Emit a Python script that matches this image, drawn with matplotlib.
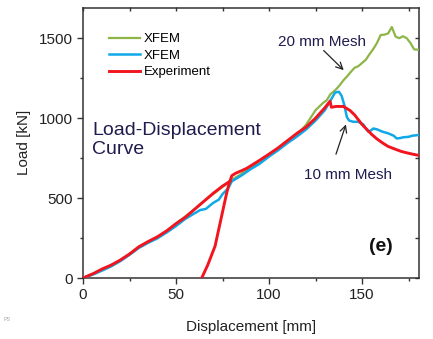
import numpy as np
import matplotlib
matplotlib.use("Agg")
import matplotlib.pyplot as plt
from matplotlib.ticker import MultipleLocator

plt.rcParams['font.family'] = ['Liberation Sans', 'DejaVu Sans']

# ---- data ----
green_x = [0, 5, 10, 15, 20, 25, 30, 35, 40, 45, 50, 55, 60, 65, 70, 75, 80, 85, 90, 95,
           100, 105, 110, 115, 120, 125, 129, 131, 133, 134.6, 136, 138, 140, 142, 144, 146,
           148, 150, 152, 154, 156, 158, 160, 162, 164, 166, 168, 170, 172, 174, 176, 178, 180]
green_y = [0, 25, 50, 78, 110, 150, 195, 225, 255, 295, 340, 385, 430, 480, 525, 570, 615,
           650, 690, 730, 770, 810, 850, 895, 960, 1050, 1095, 1112, 1150, 1165, 1180, 1206,
           1237, 1262, 1290, 1315, 1325, 1345, 1365, 1400, 1432, 1470, 1520, 1522, 1530, 1570,
           1510, 1500, 1512, 1500, 1470, 1430, 1428]

blue_x = [0, 5, 10, 15, 20, 25, 30, 35, 40, 45, 50, 55, 60, 63, 66, 70, 73, 75, 78, 80, 85,
          90, 95, 100, 105, 110, 115, 120, 125, 130, 133, 135.5, 137.5, 139, 140.5, 141.8, 143,
          145.3, 148, 150.7, 152, 153.4, 155, 156, 158, 161, 164, 167, 168.6, 170.4, 172, 175,
          177, 180]
blue_y = [0, 20, 45, 72, 105, 145, 188, 220, 248, 285, 325, 370, 405, 425, 432, 470, 490, 525,
          560, 605, 640, 680, 715, 760, 800, 845, 885, 930, 985, 1050, 1110, 1160, 1165, 1140,
          1080, 1008, 985, 977, 977, 960, 935, 915, 925, 935, 930, 915, 905, 890, 873, 875, 880,
          883, 890, 894]

exp_load_x = [0, 3, 6, 10, 15, 20, 25, 30, 35, 40, 45, 50, 55, 60, 65, 70, 75, 79]
exp_load_y = [0, 15, 30, 55, 80, 112, 150, 195, 228, 258, 295, 340, 380, 430, 480, 530, 575, 605]

exp_reload_x = [63.8, 65, 67, 69, 71, 72.5, 74, 75.5, 77, 78.5, 80, 82, 85, 88, 92, 95, 100,
                105, 110, 115, 120, 125, 130, 132.8, 133.5, 136, 140, 143.5, 146, 148, 150,
                152.5, 155, 158, 161, 164, 168, 171, 174, 177, 180]
exp_reload_y = [0, 30, 80, 140, 200, 280, 360, 440, 520, 590, 640, 655, 670, 686, 715, 737, 775,
                815, 860, 905, 945, 1000, 1065, 1106, 1068, 1073, 1073, 1048, 1020, 990, 960,
                930, 900, 870, 845, 823, 805, 792, 783, 775, 768]

labels = ["XFEM", "XFEM", "Experiment"]
c_green = "#8db548"
c_blue = "#10a8e8"
c_red = "#f2141e"
txt_col = "#1f1b4d"

fig = plt.figure(figsize=(4.33, 3.39), dpi=100)
ax = fig.add_axes([83/433, 1-278/339, (419-83)/433, (278-7.5)/339])

ax.plot(green_x, green_y, color=c_green, lw=1.6, label=labels[0], zorder=3)
ax.plot(blue_x, blue_y, color=c_blue, lw=1.8, label=labels[1], zorder=4)
ax.plot(exp_load_x, exp_load_y, color=c_red, lw=2.1, label=labels[2], zorder=5)
ax.plot(exp_reload_x, exp_reload_y, color=c_red, lw=2.1, zorder=5)

ax.set_xlim(0, 180.6)
ax.set_ylim(0, 1692)
ax.xaxis.set_major_locator(MultipleLocator(50))
ax.xaxis.set_minor_locator(MultipleLocator(25))
ax.yaxis.set_major_locator(MultipleLocator(500))
ax.yaxis.set_minor_locator(MultipleLocator(250))

for s in ax.spines.values():
    s.set_color("#333333")
    s.set_linewidth(1.1)

ax.tick_params(which='major', direction='out', length=4.3, width=1.0, color='#333333',
               labelsize=11, pad=3, labelcolor='#222222')
ax.tick_params(which='minor', direction='out', length=2.3, width=1.0, color='#333333')

secx = ax.secondary_xaxis('top')
secx.xaxis.set_major_locator(MultipleLocator(50))
secx.xaxis.set_minor_locator(MultipleLocator(25))
secx.tick_params(which='both', direction='in', length=3, width=1.0, color='#333333', labeltop=False)
secx.spines['top'].set_visible(False)
secy = ax.secondary_yaxis('right')
secy.yaxis.set_major_locator(MultipleLocator(500))
secy.yaxis.set_minor_locator(MultipleLocator(250))
secy.tick_params(which='both', direction='in', length=3, width=1.0, color='#333333', labelright=False)
secy.spines['right'].set_visible(False)

ax.set_xlabel("Displacement [mm]", fontsize=11, color='#222222', labelpad=13)
ax.set_ylabel("Load [kN]", fontsize=11, color='#222222', labelpad=6)

leg = ax.legend(loc='upper left', bbox_to_anchor=(0.076, 0.905), frameon=False, fontsize=9.5,
                handlelength=2.4, handletextpad=0.3, labelspacing=0.32, borderpad=0,
                borderaxespad=0)

ax.text(4.8, 975, "Load-Displacement\nCurve", fontsize=14, color=txt_col, va='top', ha='left',
        linespacing=1.15)
ax.text(128.5, 1475, "20 mm Mesh", fontsize=11, color=txt_col, ha='center', va='center')
ax.text(142.2, 644, "10 mm Mesh", fontsize=11, color=txt_col, ha='center', va='center')
ax.text(160, 200, "(e)", fontsize=14, fontweight='bold', color='#111111', ha='center', va='center')

ax.annotate("", xy=(141.2, 1288), xytext=(128.3, 1435),
            arrowprops=dict(arrowstyle='->', color='#222222', lw=0.9, mutation_scale=12))
ax.annotate("", xy=(141.8, 977), xytext=(135.5, 758),
            arrowprops=dict(arrowstyle='->', color='#222222', lw=0.9, mutation_scale=12))

fig.text(0.007, 0.052, "PS", fontsize=4, color='#aaaaaa')

fig.savefig("out.png", dpi=100)
